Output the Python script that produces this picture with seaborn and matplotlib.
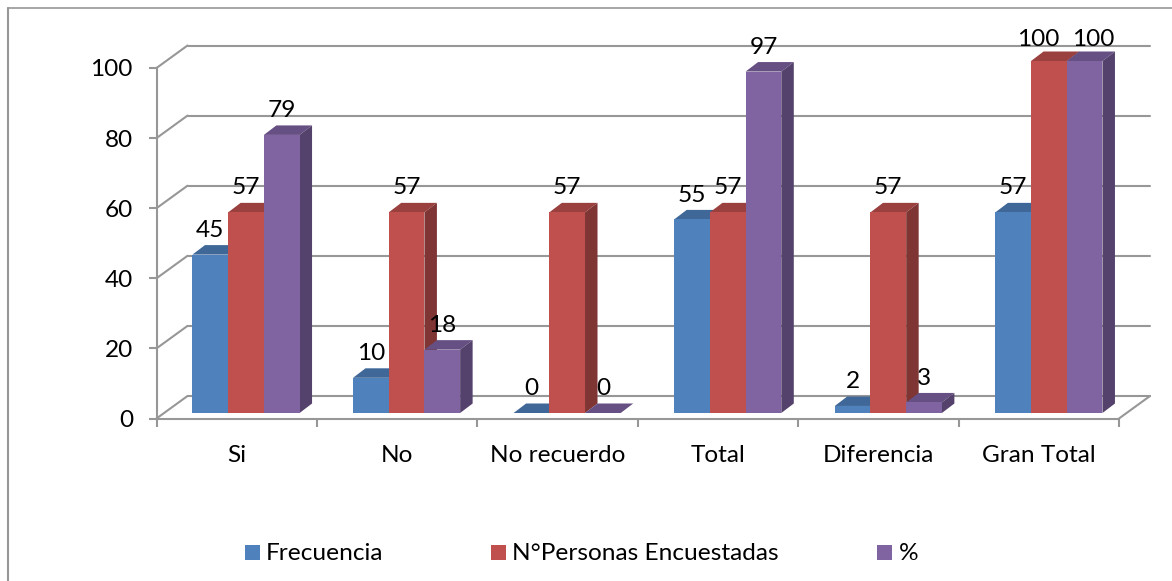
import matplotlib
matplotlib.use("Agg")
import matplotlib.pyplot as plt
from matplotlib.patches import Polygon, Rectangle
from matplotlib.transforms import IdentityTransform, ScaledTranslation
import pandas as pd
import seaborn as sns

categories = ["Si", "No", "No recuerdo", "Total", "Diferencia", "Gran Total"]
frecuencia = [45, 10, 0, 55, 2, 57]
encuestadas = [57, 57, 57, 57, 57, 100]
porcentaje = [79, 18, 0, 97, 3, 100]
series_names = ["Frecuencia", "N°Personas Encuestadas", "%"]
y_ticks = [0, 20, 40, 60, 80, 100]

W, H = 1172, 581
DPI = 100
GRAY = "#979797"
COLORS = ["#4f81bd", "#c0504d", "#8064a2"]
TOPS = ["#3f6797", "#9a403e", "#664f82"]
SIDES = ["#355781", "#7f3533", "#54426c"]
FONT = "Lato"
FS = 17.6


def box(left, top, right, bottom):
    # pixel box (from top left) to figure fractions
    return [left / W, 1 - bottom / H, (right - left) / W, (bottom - top) / H]


def px(x, y):
    return ScaledTranslation(x / DPI, y / DPI, fig.dpi_scale_trans)


sns.set_theme(style="white")
plt.rcParams["font.family"] = [FONT, "DejaVu Sans"]

df = pd.DataFrame({
    "cat": categories * 3,
    "serie": [s for s in series_names for _ in categories],
    "valor": frecuencia + encuestadas + porcentaje,
})

fig = plt.figure(figsize=(W / DPI, H / DPI), dpi=DPI)
fig.add_artist(plt.Line2D([8 / W, 8 / W], [0, 1 - 7.5 / H], color=GRAY, lw=1.5))
fig.add_artist(plt.Line2D([8 / W, 1], [1 - 7.5 / H, 1 - 7.5 / H], color=GRAY, lw=1.2))

# front plane: axis, ticks and labels
frame = fig.add_axes(box(156.5, 68, 1119, 418.5))
frame.set_xlim(0, 6)
frame.set_ylim(0, 100)
frame.patch.set_alpha(0)
for s in ["top", "right"]:
    frame.spines[s].set_visible(False)
for s in ["left", "bottom"]:
    frame.spines[s].set_color(GRAY)
    frame.spines[s].set_linewidth(1.5)
frame.set_yticks(y_ticks)
frame.set_xticks(range(7))
frame.set_xticklabels([])
frame.set_xticks([i + 0.5 for i in range(6)], categories, minor=True)
frame.tick_params(axis="both", which="major", length=6, width=1.5, color=GRAY,
                  left=True, bottom=True, labelsize=FS, labelcolor="black", pad=11)
frame.tick_params(axis="x", which="minor", length=0, labelsize=FS, labelcolor="black", pad=19)

# back wall and floor, shifted from the front plane
back = frame.transData + px(31, 22.5)
for v in y_ticks:
    frame.plot([0, 6], [v, v], color=GRAY, lw=1.5, transform=back, clip_on=False)
    frame.add_line(plt.Line2D(*zip(frame.transData.transform((0, v)), back.transform((0, v))),
                              color=GRAY, lw=1.5, transform=IdentityTransform(), clip_on=False))
frame.add_line(plt.Line2D(*zip(frame.transData.transform((6, 0)), back.transform((6, 0))),
                          color=GRAY, lw=1.5, transform=IdentityTransform(), clip_on=False))

# bars
ax = fig.add_axes(box(165.7, 61, 1129.2, 413))
ax.patch.set_alpha(0)
sns.barplot(data=df, x="cat", y="valor", hue="serie", order=categories, hue_order=series_names,
            palette=COLORS, width=0.667, gap=0, dodge=True, saturation=1, legend=False,
            linewidth=0, ax=ax)
ax.set_xlim(-0.5, 5.5)
ax.set_ylim(0, 100)
ax.axis("off")

shift = ax.transData + px(12.5, 9.5)
for i, cont in enumerate(ax.containers):
    for j, bar in enumerate(cont):
        x0, w, h = bar.get_x(), bar.get_width(), bar.get_height()
        top = Polygon([ax.transData.transform((x0, h)), ax.transData.transform((x0 + w, h)),
                       shift.transform((x0 + w, h)), shift.transform((x0, h))],
                      closed=True, facecolor=TOPS[i], edgecolor="none",
                      transform=IdentityTransform(), zorder=3 + i, clip_on=False)
        side = Polygon([ax.transData.transform((x0 + w, 0)), ax.transData.transform((x0 + w, h)),
                        shift.transform((x0 + w, h)), shift.transform((x0 + w, 0))],
                       closed=True, facecolor=SIDES[i], edgecolor="none",
                       transform=IdentityTransform(), zorder=3 + i, clip_on=False)
        ax.add_artist(top)
        ax.add_artist(side)
        bar.set_zorder(4 + i)
        bar.set_clip_on(False)
        # the two 100 labels sit apart from each other in the original
        dx, dy = 0, 10
        if h == 100:
            dx, dy = (-7.5 if i == 1 else 6.5), 8
        ax.annotate(str(int(h)), (x0 + w / 2, h), xytext=(dx, dy), textcoords="offset points",
                    ha="center", va="bottom", fontsize=FS, color="black", zorder=10,
                    annotation_clip=False)

# legend
for x_sq, x_txt, name, color in zip([245, 491, 877], [266, 512, 899], series_names, COLORS):
    fig.add_artist(Rectangle((x_sq / W, 1 - 560 / H), 15 / W, 15 / H, facecolor=color,
                             edgecolor="none", transform=fig.transFigure))
    fig.text(x_txt / W, 1 - 553.5 / H, name, fontsize=FS, va="center", ha="left", color="black")

fig.savefig("out.png", dpi=DPI)
